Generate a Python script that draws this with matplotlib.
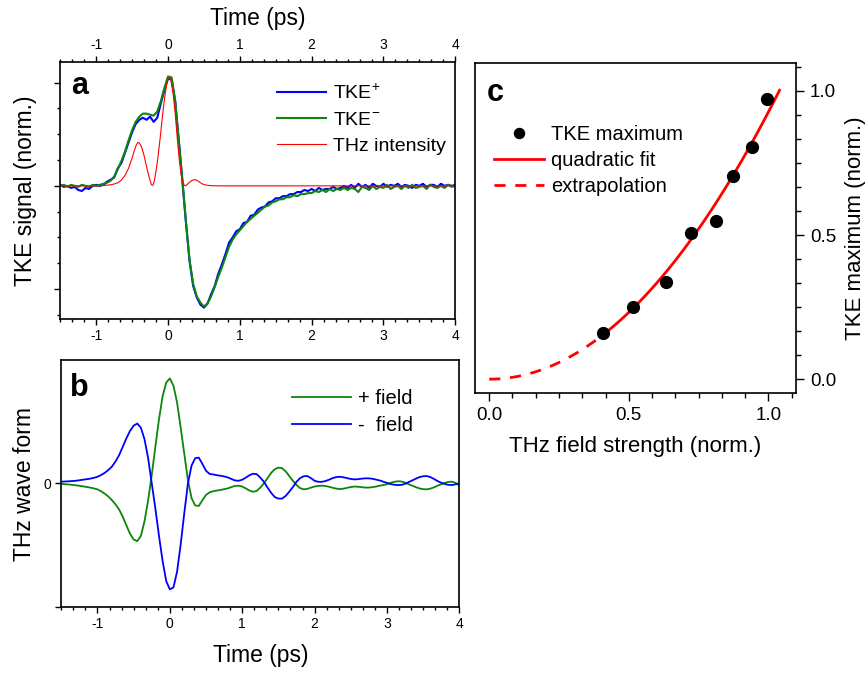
import numpy as np
import matplotlib
matplotlib.use("Agg")
import matplotlib.pyplot as plt
from matplotlib.ticker import MultipleLocator, FixedLocator, NullFormatter, FormatStrFormatter

plt.rcParams['font.family'] = ['Liberation Sans', 'DejaVu Sans']
plt.rcParams['mathtext.fontset'] = 'custom'
plt.rcParams['mathtext.rm'] = 'Liberation Sans'
plt.rcParams['axes.unicode_minus'] = False

# ---------------- Panel a data ----------------
t_tke = np.round(np.arange(-1.5, 4.0001, 0.05), 2)
tke_plus = [
    0.01, -0.01, 0.00, -0.02, -0.01, -0.04, -0.05, -0.02, -0.03, 0.00,
    0.01, 0.00, 0.01, 0.04, 0.06, 0.08, 0.17, 0.22, 0.32, 0.42,
    0.52, 0.60, 0.64, 0.66, 0.64, 0.67, 0.62, 0.66, 0.80, 0.93,
    1.04, 1.03, 0.82, 0.44, 0.05, -0.36, -0.73, -0.97, -1.08, -1.15,
    -1.18, -1.14, -1.05, -0.97, -0.85, -0.76, -0.66, -0.55, -0.50, -0.44,
    -0.42, -0.36, -0.35, -0.29, -0.28, -0.23, -0.21, -0.20, -0.16, -0.15,
    -0.12, -0.12, -0.10, -0.10, -0.08, -0.08, -0.06, -0.06, -0.04, -0.05,
    -0.03, -0.05, -0.02, -0.04, -0.03, -0.03, -0.01, -0.03, -0.02, 0.00,
    -0.02, 0.01, -0.02, 0.02, -0.01, 0.01, -0.02, 0.02, 0.00, -0.01,
    0.02, -0.01, 0.01, 0.00, 0.02, -0.01, 0.01, 0.00, -0.02, 0.01,
    0.00, 0.02, -0.01, 0.01, 0.01, -0.01, 0.02, 0.00, 0.01, 0.00,
    0.01]
tke_minus = [
    0.00, 0.01, -0.01, 0.01, 0.00, -0.01, 0.01, 0.00, -0.01, 0.01,
    0.00, 0.01, 0.02, 0.03, 0.05, 0.09, 0.16, 0.24, 0.33, 0.44,
    0.54, 0.62, 0.67, 0.70, 0.70, 0.69, 0.68, 0.72, 0.82, 0.95,
    1.06, 1.05, 0.82, 0.43, 0.05, -0.35, -0.72, -0.95, -1.07, -1.13,
    -1.17, -1.14, -1.07, -0.98, -0.88, -0.79, -0.69, -0.59, -0.52, -0.47,
    -0.43, -0.39, -0.35, -0.32, -0.29, -0.26, -0.23, -0.20, -0.19, -0.16,
    -0.15, -0.13, -0.13, -0.11, -0.11, -0.09, -0.10, -0.08, -0.08, -0.07,
    -0.07, -0.05, -0.06, -0.04, -0.06, -0.03, -0.05, -0.03, -0.04, -0.02,
    -0.04, -0.02, -0.03, -0.06, -0.01, -0.02, -0.04, 0.00, -0.03, -0.01,
    -0.02, 0.01, -0.03, -0.01, 0.00, -0.03, 0.00, -0.02, 0.01, -0.02,
    -0.01, 0.00, -0.03, 0.01, -0.01, -0.02, 0.00, -0.02, 0.01, -0.01,
    0.00]
t_int = [-1.5, -1.0, -0.9, -0.8, -0.75, -0.7, -0.65, -0.6, -0.55, -0.5,
         -0.47, -0.44, -0.42, -0.40, -0.37, -0.34, -0.31, -0.28, -0.25, -0.23,
         -0.21, -0.19, -0.17, -0.14, -0.11, -0.08, -0.05, -0.02, 0.0, 0.02,
         0.04, 0.07, 0.10, 0.13, 0.16, 0.19, 0.22, 0.24, 0.27, 0.30,
         0.34, 0.37, 0.40, 0.44, 0.48, 0.53, 0.6, 0.7, 4.0]
thz_int = [0.0, 0.0, 0.003, 0.01, 0.018, 0.03, 0.055, 0.10, 0.17, 0.27,
           0.34, 0.40, 0.42, 0.415, 0.38, 0.31, 0.22, 0.13, 0.05, 0.01,
           0.005, 0.05, 0.13, 0.28, 0.46, 0.66, 0.84, 0.98, 1.03, 1.05,
           1.02, 0.90, 0.70, 0.45, 0.23, 0.08, 0.01, 0.0, 0.015, 0.035,
           0.055, 0.06, 0.055, 0.035, 0.018, 0.007, 0.002, 0.0, 0.0]

# ---------------- Panel b data ----------------
t_field = np.round(np.arange(-1.5, 4.0001, 0.05), 2)
field_plus = [
    -0.006, -0.008, -0.010, -0.014, -0.018, -0.023, -0.028, -0.034, -0.040, -0.048,
    -0.057, -0.075, -0.098, -0.125, -0.160, -0.200, -0.250, -0.320, -0.400, -0.480,
    -0.535, -0.550, -0.500, -0.360, -0.160, 0.080, 0.350, 0.610, 0.830, 0.960,
    1.000, 0.930, 0.770, 0.530, 0.280, 0.030, -0.140, -0.210, -0.215, -0.160,
    -0.110, -0.085, -0.075, -0.068, -0.063, -0.055, -0.048, -0.035, -0.024, -0.022,
    -0.030, -0.048, -0.068, -0.080, -0.072, -0.040, 0.000, 0.050, 0.100, 0.135,
    0.150, 0.145, 0.115, 0.070, 0.025, -0.015, -0.045, -0.057, -0.052, -0.040,
    -0.030, -0.024, -0.022, -0.025, -0.032, -0.042, -0.050, -0.054, -0.050, -0.042,
    -0.035, -0.030, -0.032, -0.036, -0.040, -0.040, -0.036, -0.030, -0.022, -0.016,
    -0.008, 0.005, 0.015, 0.020, 0.018, 0.008, -0.008, -0.022, -0.036, -0.048,
    -0.055, -0.057, -0.050, -0.038, -0.022, -0.008, 0.005, 0.014, 0.016, 0.005,
    -0.020]
field_minus = [
    0.016, 0.018, 0.020, 0.022, 0.025, 0.030, 0.035, 0.040, 0.045, 0.053,
    0.063, 0.080, 0.100, 0.128, 0.160, 0.210, 0.270, 0.350, 0.430, 0.500,
    0.550, 0.570, 0.530, 0.420, 0.240, 0.000, -0.240, -0.500, -0.740, -0.930,
    -1.010, -0.990, -0.840, -0.580, -0.280, 0.000, 0.170, 0.240, 0.245, 0.185,
    0.120, 0.090, 0.085, 0.078, 0.073, 0.066, 0.057, 0.042, 0.028, 0.025,
    0.035, 0.055, 0.078, 0.092, 0.088, 0.055, 0.015, -0.040, -0.090, -0.130,
    -0.145, -0.145, -0.120, -0.080, -0.035, 0.015, 0.050, 0.068, 0.070, 0.050,
    0.025, 0.015, 0.015, 0.022, 0.035, 0.050, 0.060, 0.063, 0.058, 0.050,
    0.042, 0.038, 0.040, 0.045, 0.048, 0.048, 0.044, 0.036, 0.028, 0.016,
    0.005, -0.006, -0.013, -0.016, -0.014, -0.004, 0.012, 0.028, 0.045, 0.060,
    0.068, 0.070, 0.060, 0.042, 0.022, 0.006, -0.006, -0.014, -0.016, -0.008,
    0.000]

# ---------------- Panel c data ----------------
field_strength = [0.406, 0.514, 0.632, 0.722, 0.8125, 0.872, 0.941, 0.995]
tke_max = [0.159, 0.251, 0.336, 0.506, 0.549, 0.705, 0.804, 0.973]

W, H = 866, 673
fig = plt.figure(figsize=(W / 100, H / 100), dpi=100)

def ax_px(l, t, r, b):
    return fig.add_axes([l / W, 1 - b / H, (r - l) / W, (b - t) / H])

BLUE = '#0000ff'
GREEN = '#0b860b'
RED = '#ff0000'
LW_SP = 1.2

# ---------------- Panel a ----------------
axa = ax_px(60.3, 62, 455.3, 319)
axa.plot(t_tke, tke_plus, color=BLUE, lw=1.5, label='TKE$^{+}$')
axa.plot(t_tke, tke_minus, color=GREEN, lw=1.5, label='TKE$^{-}$')
axa.plot(t_int, thz_int, color=RED, lw=0.8, label='THz intensity')
axa.set_xlim(-1.5, 4)
axa.set_ylim(-1.29, 1.20)
axa.xaxis.set_major_locator(MultipleLocator(1))
axa.xaxis.set_minor_locator(MultipleLocator(1 / 6))
axa.yaxis.set_major_locator(MultipleLocator(1))
axa.yaxis.set_minor_locator(MultipleLocator(0.25))
axa.yaxis.set_major_formatter(NullFormatter())
axa.tick_params(axis='x', which='both', direction='out', top=True, labeltop=True,
                bottom=True, labelbottom=True, labelsize=10, pad=3)
axa.tick_params(axis='y', which='both', direction='out', left=True, right=False)
axa.tick_params(which='major', length=4, width=1)
axa.tick_params(which='minor', length=2.5, width=1)
axa.set_xlabel('Time (ps)', fontsize=16.5)
axa.xaxis.set_label_position('top')
axa.xaxis.set_label_coords(0.5, 1.171)
axa.xaxis.label.set_va('center')
axa.set_ylabel('TKE signal (norm.)', fontsize=16.5)
axa.yaxis.set_label_coords(-0.087, 0.5)
axa.yaxis.label.set_va('center')
axa.text(0.028, 0.905, 'a', transform=axa.transAxes, fontsize=22,
         fontweight='bold', ha='left', va='center')
axa.legend(loc='upper left', bbox_to_anchor=(0.549, 0.919), frameon=False,
           fontsize=14, handlelength=2.5, handletextpad=0.35, labelspacing=0.43,
           borderpad=0, borderaxespad=0)

# ---------------- Panel b ----------------
axb = ax_px(61.3, 360, 459.3, 607.3)
axb.plot(t_field, field_plus, color=GREEN, lw=1.3, label='+ field')
axb.plot(t_field, field_minus, color=BLUE, lw=1.3, label='-  field')
axb.set_xlim(-1.5, 4)
axb.set_ylim(-1.18, 1.175)
axb.xaxis.set_major_locator(MultipleLocator(1))
axb.xaxis.set_minor_locator(MultipleLocator(1 / 6))
axb.yaxis.set_major_locator(FixedLocator([-1.18, 0]))
axb.set_yticklabels(['', '0'])
axb.tick_params(axis='both', which='both', direction='out', top=False, right=False)
axb.tick_params(which='major', length=4, width=1, labelsize=10, pad=3)
axb.tick_params(which='minor', length=2.5, width=1)
axb.set_xlabel('Time (ps)', fontsize=16.5)
axb.xaxis.set_label_coords(0.5, -0.193)
axb.xaxis.label.set_va('center')
axb.set_ylabel('THz wave form', fontsize=16.5)
axb.yaxis.set_label_coords(-0.093, 0.5)
axb.yaxis.label.set_va('center')
axb.text(0.022, 0.887, 'b', transform=axb.transAxes, fontsize=22,
         fontweight='bold', ha='left', va='center')
axb.legend(loc='upper left', bbox_to_anchor=(0.58, 0.881), frameon=False,
           fontsize=14.5, handlelength=2.9, handletextpad=0.35, labelspacing=0.4,
           borderpad=0, borderaxespad=0)

# ---------------- Panel c ----------------
axc = ax_px(475, 62.7, 796, 392.7)
xs = np.asarray(field_strength)
ys = np.asarray(tke_max)
a_fit = np.sum(xs ** 2 * ys) / np.sum(xs ** 4)
x_fit = np.linspace(0.40, 1.04, 100)
x_ext = np.linspace(0.0, 0.40, 50)
axc.plot(xs, ys, 'o', color='black', ms=8.5, label='TKE maximum', zorder=3)
axc.plot(x_fit, a_fit * x_fit ** 2, color=RED, lw=2, label='quadratic fit')
axc.plot(x_ext, a_fit * x_ext ** 2, color=RED, lw=2, dashes=(4, 3.5),
         label='extrapolation')
axc.set_xlim(-0.051, 1.099)
axc.set_ylim(-0.047, 1.098)
axc.xaxis.set_major_locator(MultipleLocator(0.5))
axc.xaxis.set_minor_locator(MultipleLocator(0.5 / 6))
axc.yaxis.set_major_locator(MultipleLocator(0.5))
axc.yaxis.set_minor_locator(MultipleLocator(0.5 / 6))
axc.xaxis.set_major_formatter(FormatStrFormatter('%.1f'))
axc.yaxis.set_major_formatter(FormatStrFormatter('%.1f'))
axc.yaxis.tick_right()
axc.yaxis.set_label_position('right')
axc.tick_params(axis='both', which='both', direction='out', top=False, left=False)
axc.tick_params(which='major', length=6, width=1, labelsize=13.5, pad=4)
axc.tick_params(which='minor', length=3.3, width=1)
axc.set_xlabel('THz field strength (norm.)', fontsize=16)
axc.xaxis.set_label_coords(0.5, -0.162)
axc.xaxis.label.set_va('center')
axc.set_ylabel('TKE maximum (norm.)', fontsize=16)
axc.yaxis.set_label_coords(1.184, 0.5)
axc.yaxis.label.set_va('center')
axc.text(0.037, 0.908, 'c', transform=axc.transAxes, fontsize=22,
         fontweight='bold', ha='left', va='center')
axc.legend(loc='upper left', bbox_to_anchor=(0.059, 0.812), frameon=False,
           fontsize=14.5, handlelength=2.5, handletextpad=0.35, labelspacing=0.35,
           borderpad=0, borderaxespad=0, markerscale=0.85)

for ax in (axa, axb, axc):
    for sp in ax.spines.values():
        sp.set_linewidth(LW_SP)

fig.savefig('out.png', dpi=100)
